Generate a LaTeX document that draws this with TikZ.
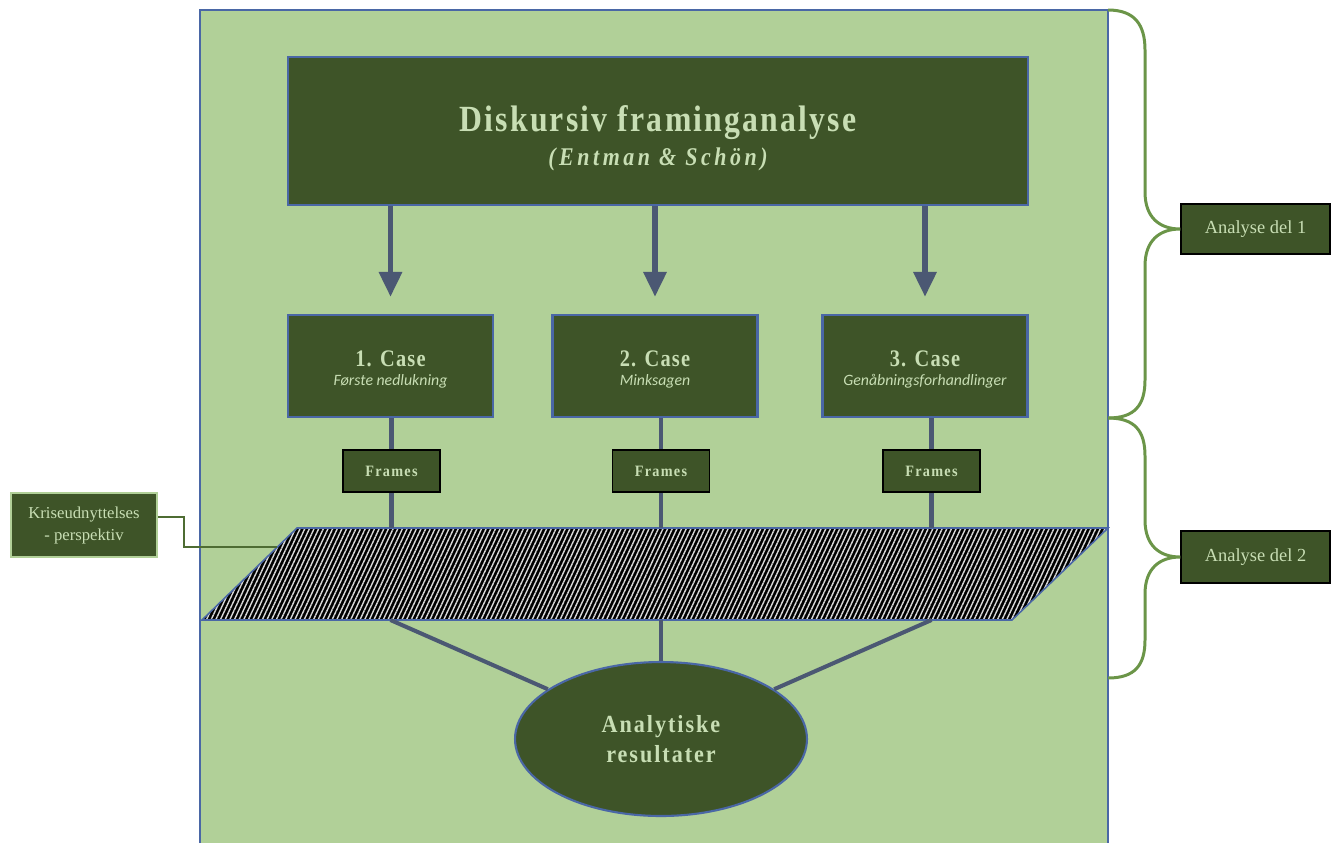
\documentclass[tikz,border=0pt]{standalone}
\usepackage{fontspec}
\usepackage{tikz}
\usetikzlibrary{arrows.meta,patterns.meta,shapes.geometric}
\setmainfont{Liberation Serif}
\newfontfamily\titlefont{Liberation Serif}[FakeStretch=0.86,LetterSpace=6]
\newfontfamily\subfont{Liberation Serif}[FakeStretch=0.86,LetterSpace=14]
\newfontfamily\casefont{Liberation Serif}[FakeStretch=0.86,LetterSpace=5]
\newfontfamily\spacedfont{Liberation Serif}[FakeStretch=0.9,LetterSpace=8]
\newfontfamily\calfont{Carlito}
\definecolor{darkgreen}{HTML}{3E5428}
\definecolor{paleGreen}{HTML}{B1D098}
\definecolor{lighttext}{HTML}{C8DEB4}
\definecolor{edgeblue}{HTML}{4A67A6}
\definecolor{slate}{HTML}{4B5873}
\definecolor{bracegreen}{HTML}{6B9548}
\definecolor{linkgreen}{HTML}{4E6C33}
\tikzset{
    box/.style={rectangle, fill=darkgreen, draw=edgeblue, line width=1.2pt,
    	text=lighttext, align=center, inner sep=0pt}
}
\tikzset{
    smallbox/.style={rectangle, fill=darkgreen, draw=black, line width=0.9pt,
    	text=lighttext, align=center, inner sep=0pt}
}
\tikzset{
    casebox/.style={box, minimum width=4.1cm, minimum height=2.04cm},
    framebox/.style={smallbox, minimum width=1.94cm, minimum height=0.84cm,
    	font=\spacedfont\bfseries\fontsize{9}{11}\selectfont},
    arr/.style={draw=slate, line width=3.4pt, shorten >=0.34cm,
    	-{Triangle[width=0.44cm,length=0.5cm]}},
    stem/.style={draw=slate, line width=2.3pt},
    brace/.style={draw=bracegreen, line width=1.7pt},
    link/.style={draw=linkgreen, line width=0.9pt}
}
\newcommand{\casetext}[2]{{\casefont\bfseries\fontsize{13.5}{15}\selectfont
	\rule{0pt}{13pt}#1}\\[-1pt]
	{\calfont\itshape\fontsize{9}{11}\selectfont #2}}

\begin{document}
\begin{tikzpicture}[x=0.02cm, y=-0.02cm]
	\useasboundingbox (0,0) rectangle (1338,843);
	\fill[white] (0,0) rectangle (1338,843);
	% main panel
	\draw[fill=paleGreen, draw=edgeblue, line width=1.2pt] (200,843) -- (200,10) -- (1108,10) -- (1108,843);
	
	\node (top) [box, minimum width=14.8cm, minimum height=2.96cm] at (658,131)
		{{\titlefont\bfseries\fontsize{21}{24}\selectfont \rule{0pt}{23pt}Diskursiv framinganalyse}\\[4pt]
		 {\subfont\bfseries\itshape\fontsize{14.5}{16}\selectfont (Entman \& Schön)}};
	
	\node (c1) [casebox] at (390.5,366) {\casetext{1. Case}{Første nedlukning}};
	\node (c2) [casebox] at (655,366) {\casetext{2. Case}{Minksagen}};
	\node (c3) [casebox] at (925,366) {\casetext{3. Case}{Genåbningsforhandlinger}};
	
	\node (f1) [framebox] at (391.5,471) {Frames};
	\node (f2) [framebox] at (661,471) {Frames};
	\node (f3) [framebox] at (931.5,471) {Frames};
	
	% perspective layer
	\coordinate (ptop) at (297,528);
	\coordinate (pbot) at (202,620);
	\coordinate (pedge) at (277,547);
	\path[preaction={fill=black}, pattern={Lines[angle=65,distance=2.4pt,line width=0.8pt]},
		pattern color=white!70!gray, draw=edgeblue, line width=0.9pt]
		(ptop) -- (1108,528) -- (1012,620) -- (pbot) -- cycle;
	
	\node (res) [box, ellipse, minimum width=5.84cm, minimum height=3.08cm,
		font=\spacedfont\bfseries\fontsize{14}{17}\selectfont] at (661,739)
		{Analytiske\\ resultater};
	
	\node (krise) [rectangle, fill=darkgreen, draw=paleGreen, line width=1.4pt,
		minimum width=2.92cm, minimum height=1.28cm, text=lighttext, align=center,
		inner sep=0pt, font=\fontsize{9.5}{12.5}\selectfont] at (84,525)
		{Kriseudnyttelses\\ - perspektiv};
	
	\node (a1) [smallbox, minimum width=2.98cm, minimum height=1.0cm,
		font=\fontsize{10.5}{12}\selectfont] at (1255.5,229) {Analyse del 1};
	\node (a2) [smallbox, minimum width=2.98cm, minimum height=1.04cm,
		font=\fontsize{10.5}{12}\selectfont] at (1255.5,557) {Analyse del 2};
	
	\draw[arr] (top.south -| c1.north) -- (c1.north);
	\draw[arr] (top.south -| c2.north) -- (c2.north);
	\draw[arr] (top.south -| c3.north) -- (c3.north);
	
	\draw[stem] (c1.south -| f1.north) -- (f1.north);
	\draw[stem] (c2.south -| f2.north) -- (f2.north);
	\draw[stem] (c3.south -| f3.north) -- (f3.north);
	\draw[stem] (f1.south) -- (f1.south |- ptop);
	\draw[stem] (f2.south) -- (f2.south |- ptop);
	\draw[stem] (f3.south) -- (f3.south |- ptop);
	
	\draw[stem] (c1.south |- pbot) -- (res);
	\draw[stem] (res.north |- pbot) -- (res.north);
	\draw[stem] (f3.south |- pbot) -- (res);
	
	\draw[link] ([yshift=0.16cm]krise.east) -- ++(26,0) |- (pedge);
	
	% braces
	\draw[brace] (1108,10) .. controls (1135,10) and (1145,25) .. (1145,50)
		-- (1145,192) .. controls (1145,218) and (1160,229) .. (a1.west)
		.. controls (1160,229) and (1145,240) .. (1145,266)
		-- (1145,380) .. controls (1145,405) and (1135,418) .. (1108,418);
	\draw[brace] (1108,418) .. controls (1135,418) and (1145,431) .. (1145,456)
		-- (1145,520) .. controls (1145,546) and (1160,557) .. (a2.west)
		.. controls (1160,557) and (1145,568) .. (1145,594)
		-- (1145,640) .. controls (1145,665) and (1135,678) .. (1108,678);
\end{tikzpicture}
\end{document}
